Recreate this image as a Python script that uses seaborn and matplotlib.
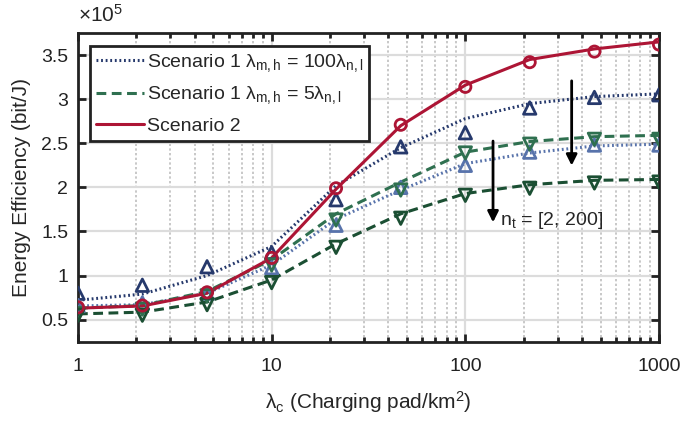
import matplotlib
matplotlib.use("Agg")
import matplotlib.pyplot as plt
import seaborn as sns
import numpy as np
from matplotlib.ticker import FixedLocator, FuncFormatter, LogLocator, NullFormatter
from matplotlib.lines import Line2D

# ---------------- data (values in units of 1e5 bit/J) ----------------
lambda_c = [1, 2.15, 4.64, 10, 21.5, 46.4, 100, 215, 464, 1000]

# analytical curves
s1_100_nt2_line   = [0.72, 0.79, 1.00, 1.33, 2.02, 2.45, 2.78, 2.95, 3.03, 3.06]
s1_100_nt200_line = [0.655, 0.67, 0.80, 1.12, 1.64, 1.97, 2.27, 2.39, 2.47, 2.49]
s1_5_nt2_line     = [0.63, 0.66, 0.82, 1.18, 1.70, 2.06, 2.40, 2.52, 2.575, 2.59]
s1_5_nt200_line   = [0.565, 0.585, 0.70, 0.95, 1.36, 1.70, 1.93, 2.03, 2.08, 2.09]
s2_line           = [0.63, 0.655, 0.80, 1.20, 1.98, 2.70, 3.16, 3.45, 3.57, 3.65]

# simulation markers
s1_100_nt2_sim   = [0.80, 0.89, 1.10, 1.26, 1.86, 2.46, 2.62, 2.90, 3.02, 3.05]
s1_100_nt200_sim = [0.66, 0.69, 0.80, 1.09, 1.57, 2.00, 2.25, 2.40, 2.48, 2.48]
s1_5_nt2_sim     = [0.57, 0.62, 0.77, 1.12, 1.63, 1.97, 2.39, 2.49, 2.545, 2.545]
s1_5_nt200_sim   = [0.55, 0.55, 0.67, 0.92, 1.32, 1.65, 1.91, 1.99, 2.05, 2.06]
s2_sim           = [0.64, 0.66, 0.81, 1.20, 1.99, 2.71, 3.14, 3.42, 3.54, 3.62]

legend_labels = [r"Scenario 1 $\lambda_{\mathrm{m,h}}$ = 100$\lambda_{\mathrm{n,l}}$",
                 r"Scenario 1 $\lambda_{\mathrm{m,h}}$ = 5$\lambda_{\mathrm{n,l}}$",
                 "Scenario 2"]
x_ticks = [1, 10, 100, 1000]
y_ticks = [0.5, 1, 1.5, 2, 2.5, 3, 3.5]

# ---------------- style ----------------
sns.set_style("ticks")
plt.rcParams['font.family'] = ['Liberation Sans', 'DejaVu Sans']
plt.rcParams['mathtext.fontset'] = 'custom'
plt.rcParams['mathtext.rm'] = 'Liberation Sans'
plt.rcParams['mathtext.it'] = 'Liberation Sans'
plt.rcParams['mathtext.bf'] = 'Liberation Sans:bold'

navy = "#26396c"
lblue = "#5873ab"
mgreen = "#2f7050"
dgreen = "#1b4f33"
red = "#ad1535"

dot = (0, (0.6, 0.9))
dash = (0, (3.2, 1.8))

fig = plt.figure(figsize=(6.81, 4.21), dpi=100)
ax = fig.add_axes([0.1145, 0.1884, 0.8532, 0.733])

series = [
    (s1_100_nt2_line, s1_100_nt2_sim, navy, dot, '^'),
    (s1_100_nt200_line, s1_100_nt200_sim, lblue, dot, '^'),
    (s1_5_nt2_line, s1_5_nt2_sim, mgreen, dash, 'v'),
    (s1_5_nt200_line, s1_5_nt200_sim, dgreen, dash, 'v'),
    (s2_line, s2_sim, red, '-', 'o'),
]

for line_v, sim_v, col, ls, mk in series:
    sns.lineplot(x=lambda_c, y=line_v, ax=ax, color=col, linewidth=2.2,
                 linestyle=ls, zorder=3)
    sns.scatterplot(x=lambda_c, y=sim_v, ax=ax, marker=mk, s=80 if mk != 'o' else 65,
                    facecolors='none', edgecolor=col, linewidth=2.0, zorder=4)

ax.set_xscale('log')
ax.set_xlim(1, 1000)
ax.set_ylim(0.25, 3.75)
ax.xaxis.set_major_locator(FixedLocator(x_ticks))
ax.xaxis.set_major_formatter(FuncFormatter(lambda v, p: f"{v:g}"))
ax.xaxis.set_minor_locator(LogLocator(base=10, subs=np.arange(2, 10)))
ax.xaxis.set_minor_formatter(NullFormatter())
ax.yaxis.set_major_locator(FixedLocator(y_ticks))
ax.yaxis.set_major_formatter(FuncFormatter(lambda v, p: f"{v:g}"))

ax.grid(which='major', axis='both', color='#dcdcdc', linewidth=1.6, linestyle='-', zorder=0)
ax.grid(which='minor', axis='x', color='#c8c8c8', linewidth=1.4, linestyle=(0, (1.2, 1.2)), zorder=0)
ax.set_axisbelow(True)

for sp in ax.spines.values():
    sp.set_visible(True)
    sp.set_linewidth(2.0)
    sp.set_color('#222222')
ax.tick_params(which='both', direction='in', top=True, right=True, color='#222222', width=2.0)
ax.tick_params(which='major', length=6, labelsize=14, labelcolor='#222222')
ax.tick_params(axis='x', which='major', pad=12)
ax.tick_params(axis='y', which='major', pad=7)
ax.tick_params(which='minor', length=3.5)

ax.set_xlabel(r"$\lambda_{\mathrm{c}}$ (Charging pad/km$^2$)", fontsize=15, labelpad=10)
ax.set_ylabel("Energy Efficiency (bit/J)", fontsize=15, labelpad=7)
ax.text(0.0, 1.025, r"$\times$10$^5$", transform=ax.transAxes, fontsize=15,
        ha='left', va='bottom')

handles = [Line2D([], [], color=navy, linestyle=dot, linewidth=2.2),
           Line2D([], [], color=mgreen, linestyle=dash, linewidth=2.2),
           Line2D([], [], color=red, linestyle='-', linewidth=2.2)]
leg = ax.legend(handles, legend_labels, loc='upper left', bbox_to_anchor=(0.021, 0.958),
                fontsize=14, frameon=True, fancybox=False, framealpha=1,
                edgecolor='#222222', handlelength=2.45, handletextpad=0.15,
                borderpad=0.3, labelspacing=0.55, borderaxespad=0)
leg.get_frame().set_linewidth(2.0)
leg.set_zorder(10)

# annotation arrows
ax.annotate("", xy=(354, 2.216), xytext=(354, 3.24),
            arrowprops=dict(arrowstyle='-|>', color='black', lw=2.0, mutation_scale=16), zorder=6)
ax.annotate("", xy=(139, 1.572), xytext=(139, 2.557),
            arrowprops=dict(arrowstyle='-|>', color='black', lw=2.0, mutation_scale=16), zorder=6)
ax.text(151, 1.63, r"n$_{\mathrm{t}}$ = [2, 200]", fontsize=14, ha='left', va='center', zorder=6)

fig.savefig("out.png", dpi=100)
